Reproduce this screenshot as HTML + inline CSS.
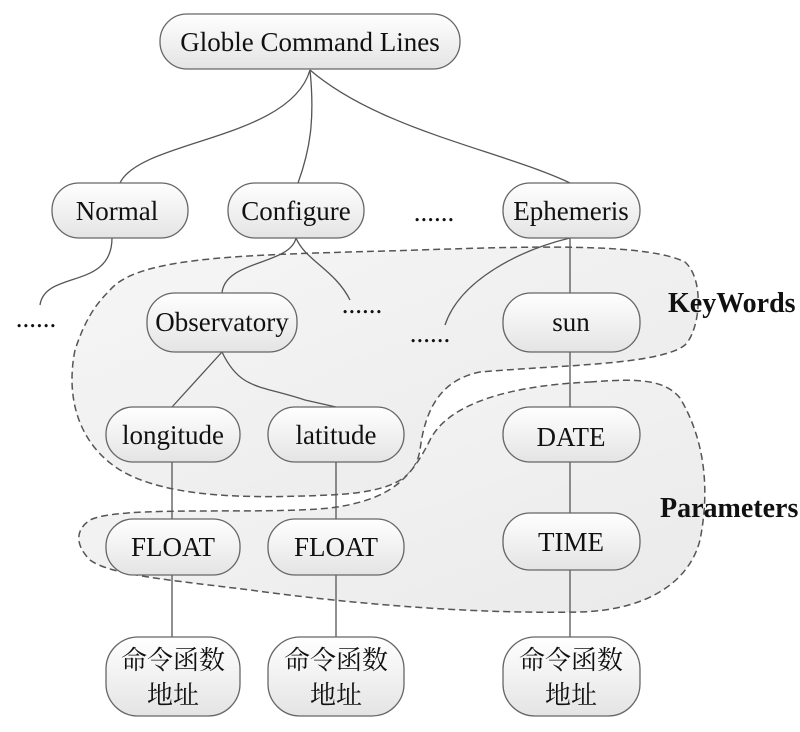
<!DOCTYPE html>
<html><head><meta charset="utf-8"><style>
html,body{margin:0;padding:0;background:#fff;}
svg text{font-family:"Liberation Serif","Noto Serif CJK SC",serif;}
</style></head><body>
<svg width="800" height="727" viewBox="0 0 800 727" xmlns="http://www.w3.org/2000/svg">
<defs>
<linearGradient id="g" x1="0" y1="0" x2="0" y2="1"><stop offset="0" stop-color="#ffffff"/><stop offset="1" stop-color="#e4e4e4"/></linearGradient>
<linearGradient id="r" x1="0" y1="0" x2="1" y2="1"><stop offset="0" stop-color="#f6f6f6"/><stop offset="1" stop-color="#eaeaea"/></linearGradient>
</defs>
<path d="M110,290 C140,255 250,255 420,250 C560,245 650,245 685,262 C705,280 700,330 685,345 C660,365 560,365 480,372 C440,380 425,410 420,450 C415,480 390,492 330,495 C260,498 170,500 120,470 C80,445 65,400 75,350 C85,320 95,305 110,290 Z" fill="url(#r)" stroke="#555" stroke-width="1.5" stroke-dasharray="7,4"/>
<path d="M590,382 C640,378 665,380 680,398 C705,440 710,490 700,540 C690,580 650,610 580,612 C480,614 360,605 250,590 C170,580 110,575 90,560 C75,545 75,530 90,520 C120,505 260,515 330,508 C390,500 410,480 430,440 C450,400 520,385 590,382 Z" fill="url(#r)" stroke="#555" stroke-width="1.5" stroke-dasharray="7,4"/>
<g stroke="#555" stroke-width="1.3" fill="none">
<path d="M310,70 C290,140 140,140 120,183"/>
<path d="M310,70 C315,120 310,150 298,183"/>
<path d="M310,70 C380,130 500,150 570,183"/>
<path d="M112,238 C112,290 45,270 40,305"/>
<path d="M296,238 C290,265 225,260 222,293"/>
<path d="M296,238 C305,260 335,270 350,300"/>
<path d="M570,238 C520,250 460,280 445,325"/>
<path d="M570,238 L570,293"/>
<path d="M222,352 L172,407"/>
<path d="M222,352 C240,390 260,385 305,400 L336,407"/>
<path d="M570,352 L570,407"/>
<path d="M172,462 L172,519"/>
<path d="M336,462 L336,519"/>
<path d="M570,462 L570,513"/>
<path d="M172,575 L172,637"/>
<path d="M336,575 L336,637"/>
<path d="M570,570 L570,637"/>
</g>
<g fill="url(#g)" stroke="#666" stroke-width="1.3">
<rect x="160" y="14" width="300" height="55" rx="27"/>
<rect x="52" y="183" width="136" height="55" rx="27"/>
<rect x="228" y="183" width="136" height="55" rx="27"/>
<rect x="503" y="183" width="137" height="55" rx="27"/>
<rect x="147" y="293" width="150" height="59" rx="28"/>
<rect x="503" y="293" width="137" height="59" rx="28"/>
<rect x="106" y="407" width="134" height="55" rx="27"/>
<rect x="268" y="407" width="136" height="55" rx="27"/>
<rect x="503" y="407" width="137" height="55" rx="27"/>
<rect x="106" y="519" width="134" height="56" rx="27"/>
<rect x="268" y="519" width="136" height="56" rx="27"/>
<rect x="503" y="513" width="137" height="57" rx="27"/>
<rect x="106" y="637" width="134" height="79" rx="32"/>
<rect x="268" y="637" width="136" height="79" rx="32"/>
<rect x="503" y="637" width="137" height="79" rx="32"/>
</g>
<g font-size="27" fill="#111" text-anchor="middle">
<text x="310" y="51">Globle Command Lines</text>
<text x="117" y="220">Normal</text>
<text x="296" y="220">Configure</text>
<text x="571" y="220">Ephemeris</text>
<text x="222" y="331">Observatory</text>
<text x="571" y="331">sun</text>
<text x="173" y="444">longitude</text>
<text x="336" y="444">latitude</text>
<text x="571" y="446">DATE</text>
<text x="173" y="556">FLOAT</text>
<text x="336" y="556">FLOAT</text>
<text x="571" y="551">TIME</text>
<text x="434" y="221">......</text>
<text x="36" y="327">......</text>
<text x="362" y="313">......</text>
<text x="430" y="342">......</text>
</g>
<g font-size="26" fill="#111" text-anchor="middle">
<text x="173" y="669">命令函数</text><text x="173" y="704">地址</text>
<text x="336" y="669">命令函数</text><text x="336" y="704">地址</text>
<text x="571" y="669">命令函数</text><text x="571" y="704">地址</text>
</g>
<g font-size="28" font-weight="bold" fill="#111">
<text x="668" y="312">KeyWords</text>
<text x="660" y="517">Parameters</text>
</g>
</svg>
</body></html>
